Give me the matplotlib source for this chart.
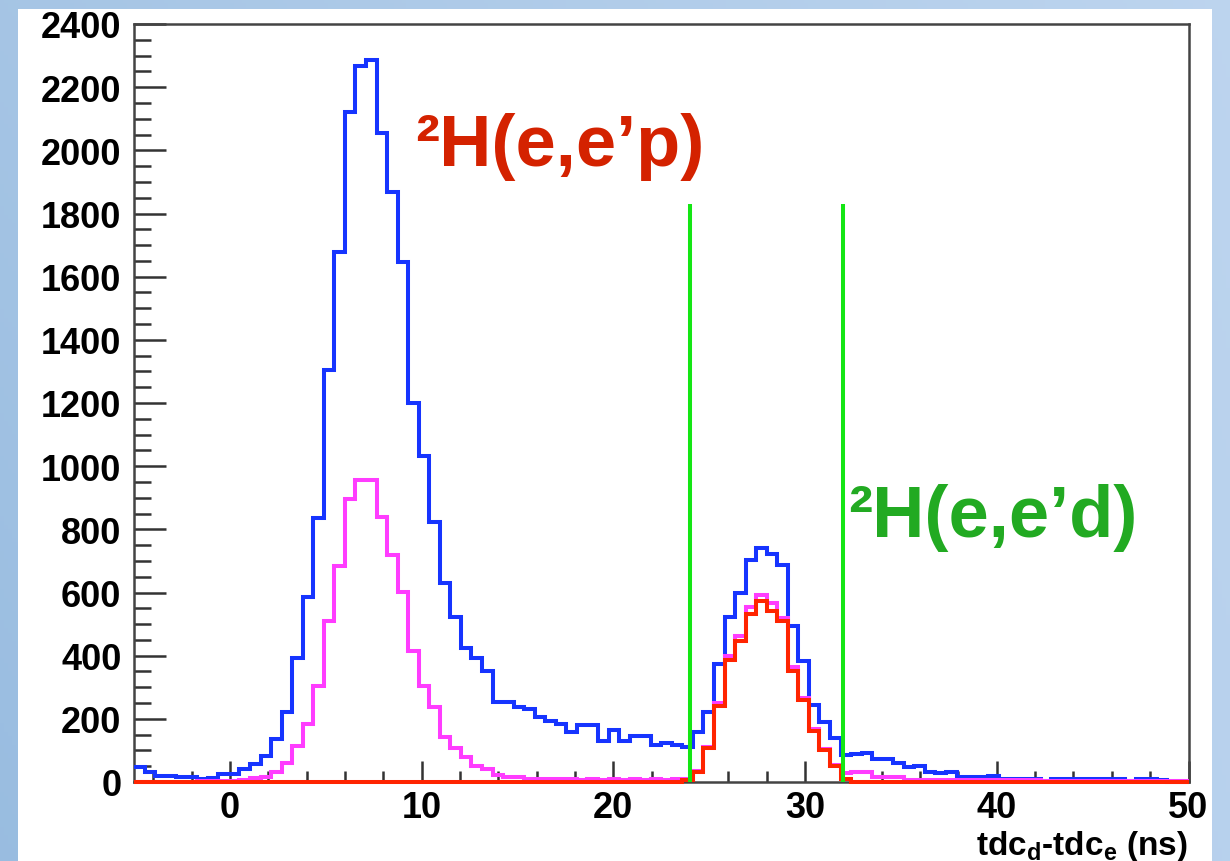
import numpy as np
import matplotlib
matplotlib.use("Agg")
import matplotlib.pyplot as plt
from matplotlib.patches import Rectangle
from matplotlib.ticker import MultipleLocator

plt.rcParams['font.family'] = ['Liberation Sans', 'DejaVu Sans']
plt.rcParams['mathtext.fontset'] = 'custom'
plt.rcParams['mathtext.rm'] = 'Liberation Sans:bold'
plt.rcParams['mathtext.it'] = 'Liberation Sans:bold'
plt.rcParams['mathtext.bf'] = 'Liberation Sans:bold'

# Histogram binning: 100 bins from -5 to 50 ns
x_min, x_max, n_bins = -5.0, 50.0, 100

# All coincidences
counts_all = [
    46, 31, 18, 20, 16, 15, 10, 12, 26, 24,
    40, 57, 83, 136, 221, 392, 585, 836, 1305, 1678,
    2122, 2268, 2285, 2055, 1869, 1646, 1200, 1032, 824, 630,
    521, 424, 392, 350, 254, 254, 238, 231, 205, 194,
    184, 157, 180, 180, 129, 166, 129, 145, 145, 117,
    123, 117, 112, 159, 223, 374, 523, 597, 703, 741,
    722, 687, 493, 384, 245, 189, 139, 85, 88, 91,
    73, 73, 59, 46, 52, 31, 27, 31, 15, 15,
    15, 18, 10, 10, 10, 10, 3, 10, 10, 10,
    8, 8, 8, 8, 2, 8, 8, 5, 1, 0,
]

# After the first selection
counts_cut = [
    0, 0, 0, 0, 1, 1, 2, 2, 3, 4,
    6, 12, 16, 33, 61, 113, 184, 305, 509, 685,
    896, 955, 955, 840, 720, 601, 416, 305, 236, 141,
    107, 78, 52, 41, 22, 17, 17, 10, 10, 10,
    10, 8, 7, 8, 7, 8, 7, 8, 7, 8,
    7, 8, 10, 36, 110, 250, 400, 463, 553, 593,
    566, 519, 363, 265, 168, 105, 55, 28, 31, 31,
    15, 15, 15, 7, 7, 7, 7, 7, 5, 5,
    5, 5, 5, 5, 5, 5, 2, 2, 2, 2,
    2, 2, 2, 2, 2, 2, 2, 2, 2, 2,
]

# Deuteron candidates
counts_d = [0] * 52 + [
    5, 31, 107, 242, 387, 447, 532, 574, 542, 511,
    352, 260, 162, 102, 52, 10,
] + [0] * 32

# Timing window
window = [24.0, 32.0]
window_top = 1830

edges = np.linspace(x_min, x_max, n_bins + 1)

W, H = 1230, 862
fig = plt.figure(figsize=(W / 100, H / 100), dpi=100)

# Light blue slide background with white panel
bg = fig.add_axes([0, 0, 1, 1], zorder=-10)
bg.set_axis_off()
yy, xx = np.mgrid[0:1:200j, 0:1:300j]
top_c = np.array([0.80, 0.87, 0.95])
left_c = np.array([0.60, 0.74, 0.88])
right_c = np.array([0.72, 0.82, 0.93])
horiz = (1 - xx)[..., None] * left_c + xx[..., None] * right_c
img = horiz * (0.75 + 0.25 * (1 - yy[..., None])) + top_c * 0.25 * yy[..., None]
img = np.clip(img, 0, 1)
bg.imshow(img, extent=[0, 1, 0, 1], origin='lower', aspect='auto')
bg.set_xlim(0, 1)
bg.set_ylim(0, 1)
bg.add_patch(Rectangle((18 / W, 0), (1212 - 18) / W, (H - 10) / H,
                       transform=bg.transAxes, facecolor='white',
                       edgecolor='none'))

ax = fig.add_axes([134 / W, (H - 783) / H, (1188.5 - 134) / W, (783 - 25) / H])
ax.set_facecolor('white')

lw = 2.9
ax.stairs(counts_all, edges, color='#1634ff', linewidth=lw, baseline=None,
          zorder=3, clip_on=False)
ax.stairs(counts_cut, edges, color='#ff3cff', linewidth=lw, baseline=None,
          zorder=4, clip_on=False)
ax.stairs(counts_d, edges, color='#ff2400', linewidth=lw, baseline=None,
          zorder=5, clip_on=False)
for xv in window:
    ax.plot([xv, xv], [0, window_top], color='#14e614', linewidth=2.9,
            zorder=6, solid_capstyle='butt')

ax.set_xlim(x_min, x_max)
ax.set_ylim(0, 2400)

ax.xaxis.set_major_locator(MultipleLocator(10))
ax.xaxis.set_minor_locator(MultipleLocator(2))
ax.yaxis.set_major_locator(MultipleLocator(200))
ax.yaxis.set_minor_locator(MultipleLocator(50))

ax.tick_params(which='both', direction='in', top=False, right=False,
               colors='#333333', width=1.8, labelcolor='black',
               labelsize=26)
ax.tick_params(axis='y', which='major', length=23, pad=9)
ax.tick_params(axis='y', which='minor', length=12)
ax.tick_params(axis='x', which='major', length=15, pad=6)
ax.tick_params(axis='x', which='minor', length=8)
for lab in ax.get_xticklabels() + ax.get_yticklabels():
    lab.set_fontweight('bold')

for sp in ax.spines.values():
    sp.set_color('#444444')
    sp.set_linewidth(1.8)

ax.text(9.67, 1954, '²H(e,e’p)', color='#d42200', fontsize=52,
        fontweight='bold', ha='left', va='baseline', zorder=7)
ax.text(32.25, 779, '²H(e,e’d)', color='#22aa22', fontsize=52,
        fontweight='bold', ha='left', va='baseline', zorder=7)

fig.text(1188 / W, (H - 855) / H, r'tdc$_{\rm d}$-tdc$_{\rm e}$ (ns)',
         fontsize=24, fontweight='bold', ha='right', va='baseline')

fig.savefig('out.png', dpi=100)
